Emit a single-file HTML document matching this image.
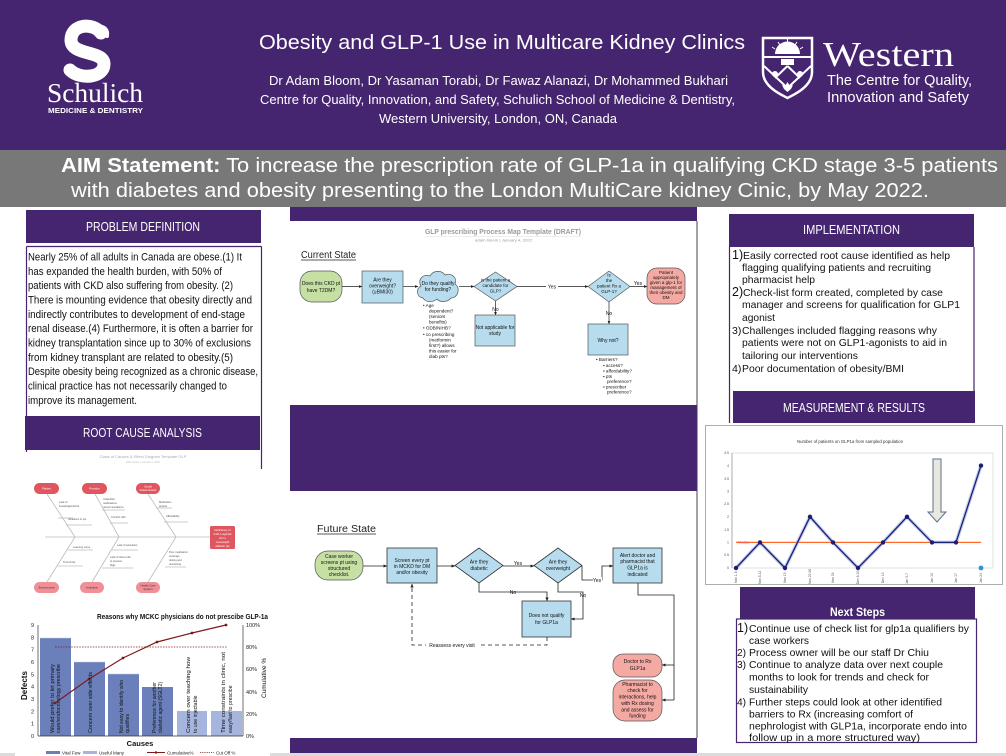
<!DOCTYPE html>
<html><head><meta charset="utf-8"><style>
html,body{margin:0;padding:0;background:#fff;}
svg{display:block;}
text{font-family:"Liberation Sans",Arial,sans-serif;}
.serif{font-family:"Liberation Serif","Times New Roman",serif;}
</style></head><body>
<svg width="1006" height="756" viewBox="0 0 1006 756" xmlns="http://www.w3.org/2000/svg">
<defs>
<marker id="ah" viewBox="0 0 10 10" refX="9" refY="5" markerWidth="5" markerHeight="5" orient="auto"><path d="M0,1 L10,5 L0,9 z" fill="#222"/></marker>
</defs>
<rect x="0" y="0" width="1006" height="756" fill="#fff"/>
<!-- HEADER -->
<rect x="0" y="0" width="1006" height="150" fill="#45256f"/>
<!-- Schulich logo -->
<path d="M101,33 C93,22 71,24 71,40 C71,56 104,50 104,64 C104,78 80,80 70,70" fill="none" stroke="#fff" stroke-width="13" stroke-linecap="round"/>
<path d="M99,27 C104,26 108,30 107,36" fill="none" stroke="#fff" stroke-width="4" stroke-linecap="round"/>
<text class="serif" x="47" y="102" font-size="27" fill="#fff" textLength="96" lengthAdjust="spacingAndGlyphs">Schulich</text>
<text x="48" y="113" font-size="7" font-weight="bold" fill="#fff" textLength="95" lengthAdjust="spacingAndGlyphs">MEDICINE &amp; DENTISTRY</text>
<!-- Title -->
<text x="259" y="49" font-size="20" fill="#fff" textLength="486" lengthAdjust="spacingAndGlyphs">Obesity and GLP-1 Use in Multicare Kidney Clinics</text>
<text x="269" y="85" font-size="13" fill="#fff" textLength="459" lengthAdjust="spacingAndGlyphs">Dr Adam Bloom, Dr Yasaman Torabi, Dr Fawaz Alanazi, Dr Mohammed Bukhari</text>
<text x="260" y="104" font-size="13" fill="#fff" textLength="475" lengthAdjust="spacingAndGlyphs">Centre for Quality, Innovation, and Safety, Schulich School of Medicine &amp; Dentistry,</text>
<text x="379" y="123" font-size="13" fill="#fff" textLength="238" lengthAdjust="spacingAndGlyphs">Western University, London, ON, Canada</text>
<!-- Western logo -->
<path d="M763,38 L812,38 L812,72 C812,87 793,95 787.5,98 C782,95 763,87 763,72 Z" fill="#45256f" stroke="#fff" stroke-width="2.5"/>
<path d="M775,54 A12.5,12.5 0 0 1 800,54 Z" fill="#fff"/>
<g stroke="#fff" stroke-width="1">
<line x1="787.5" y1="39" x2="787.5" y2="43"/><line x1="778" y1="42" x2="780" y2="45"/><line x1="797" y1="42" x2="795" y2="45"/><line x1="772" y1="47" x2="775" y2="49"/><line x1="803" y1="47" x2="800" y2="49"/>
</g>
<line x1="764" y1="57" x2="811" y2="57" stroke="#fff" stroke-width="2"/>
<rect x="781" y="59" width="13" height="6" fill="#fff"/>
<path d="M764,66 L787.5,88 L811,66 M787.5,66 L775,78 M787.5,66 L800,78" fill="none" stroke="#fff" stroke-width="2"/>
<circle cx="775" cy="74" r="3" fill="#fff"/><circle cx="800" cy="74" r="3" fill="#fff"/>
<path d="M787.5,82 L790,86 L793,85 L791,89 L787.5,92 L784,89 L782,85 L785,86 Z" fill="#fff"/>
<text class="serif" x="823" y="66" font-size="35" fill="#fff" textLength="131" lengthAdjust="spacingAndGlyphs">Western</text>
<text x="827" y="85" font-size="15" fill="#fff" textLength="145" lengthAdjust="spacingAndGlyphs">The Centre for Quality,</text>
<text x="827" y="102" font-size="15" fill="#fff" textLength="142" lengthAdjust="spacingAndGlyphs">Innovation and Safety</text>
<!-- AIM -->
<rect x="0" y="150" width="1006" height="57" fill="#787878"/>
<text x="61" y="172" font-size="20" fill="#fff" textLength="937" lengthAdjust="spacingAndGlyphs"><tspan font-weight="bold">AIM Statement:</tspan> To increase the prescription rate of GLP-1a in qualifying CKD stage 3-5 patients</text>
<text x="71" y="197" font-size="20" fill="#fff" textLength="858" lengthAdjust="spacingAndGlyphs">with diabetes and obesity presenting to the London MultiCare kidney Cinic, by May 2022.</text>

<!-- LEFT COLUMN -->
<line x1="26.5" y1="246.5" x2="26.5" y2="452" stroke="#45256f" stroke-width="1.2"/>
<line x1="261.5" y1="246.5" x2="261.5" y2="469" stroke="#45256f" stroke-width="1.2"/>
<line x1="26.5" y1="246.5" x2="261.5" y2="246.5" stroke="#45256f" stroke-width="1.2"/>
<rect x="26" y="210" width="235" height="33" fill="#45256f"/>
<text x="86" y="231" font-size="12.5" fill="#fff" textLength="114" lengthAdjust="spacingAndGlyphs">PROBLEM DEFINITION</text>
<g font-size="11" fill="#111">
<text x="28" y="260.5" textLength="214" lengthAdjust="spacingAndGlyphs">Nearly 25% of all adults in Canada are obese.(1) It</text>
<text x="28" y="274.8" textLength="194" lengthAdjust="spacingAndGlyphs">has expanded the health burden, with 50% of</text>
<text x="28" y="289.2" textLength="205" lengthAdjust="spacingAndGlyphs">patients with CKD also suffering from obesity. (2)</text>
<text x="28" y="303.5" textLength="224" lengthAdjust="spacingAndGlyphs">There is mounting evidence that obesity directly and</text>
<text x="28" y="317.8" textLength="217" lengthAdjust="spacingAndGlyphs">indirectly contributes to development of end-stage</text>
<text x="28" y="332.2" textLength="225" lengthAdjust="spacingAndGlyphs">renal disease.(4) Furthermore, it is often a barrier for</text>
<text x="28" y="346.5" textLength="223" lengthAdjust="spacingAndGlyphs">kidney transplantation since up to 30% of exclusions</text>
<text x="28" y="360.8" textLength="205" lengthAdjust="spacingAndGlyphs">from kidney transplant are related to obesity.(5)</text>
<text x="28" y="375.2" textLength="230" lengthAdjust="spacingAndGlyphs">Despite obesity being recognized as a chronic disease,</text>
<text x="28" y="389.5" textLength="199" lengthAdjust="spacingAndGlyphs">clinical practice has not necessarily changed to</text>
<text x="28" y="403.8" textLength="109" lengthAdjust="spacingAndGlyphs">improve its management.</text>
</g>
<rect x="25" y="416" width="235" height="34" fill="#45256f"/>
<text x="83" y="437" font-size="12.5" fill="#fff" textLength="119" lengthAdjust="spacingAndGlyphs">ROOT CAUSE ANALYSIS</text>

<!-- Fishbone -->
<text x="143" y="458" font-size="4" fill="#aaa" text-anchor="middle">Class of Causes &amp; Effect Diagram Template GLP</text>
<text x="143" y="463" font-size="2.5" fill="#bbb" text-anchor="middle">adam bloom | January 4, 2022</text>
<g stroke="#bbb" stroke-width="0.8" fill="none">
<line x1="45" y1="537" x2="210" y2="537"/>
<line x1="47" y1="494" x2="75" y2="537"/><line x1="95" y1="494" x2="119" y2="537"/><line x1="148" y1="494" x2="176" y2="537"/>
<line x1="75" y1="537" x2="47" y2="582"/><line x1="119" y1="537" x2="92" y2="582"/><line x1="176" y1="537" x2="148" y2="582"/>
<line x1="58" y1="518" x2="73" y2="518"/><line x1="66" y1="525" x2="92" y2="525"/>
<line x1="102" y1="510" x2="125" y2="510"/><line x1="110" y1="523" x2="128" y2="523"/>
<line x1="156" y1="508" x2="172" y2="508"/><line x1="164" y1="522" x2="188" y2="522"/>
<line x1="68" y1="550" x2="93" y2="550"/><line x1="58" y1="566" x2="83" y2="566"/>
<line x1="112" y1="550" x2="138" y2="550"/><line x1="102" y1="568" x2="133" y2="568"/>
<line x1="165" y1="567" x2="186" y2="567"/>
</g>
<g font-size="2.6" fill="#555">
<text x="59" y="503">Lack of</text><text x="59" y="507">knowledge/inertia</text>
<text x="68" y="520">Variations in pts</text>
<text x="103" y="500">Unfamiliar</text><text x="103" y="504">medications</text><text x="103" y="508">recommendations</text>
<text x="111" y="518">Comfort with</text>
<text x="159" y="503">Medication</text><text x="159" y="507">access</text>
<text x="166" y="517">Affordability</text>
<text x="73" y="548">Learning curve</text><text x="63" y="563">Time limits</text>
<text x="117" y="546">Lack of education</text><text x="110" y="558">Lack of clear refer</text><text x="110" y="562">to process</text><text x="110" y="566">flags</text>
<text x="169" y="553">Poor medication</text><text x="169" y="557">coverage</text><text x="169" y="561">dosing and</text><text x="169" y="565">monitoring</text>
</g>
<g fill="#e05660">
<rect x="34" y="483" width="25" height="11" rx="5.5"/><rect x="82" y="483" width="25" height="11" rx="5.5"/><rect x="136" y="483" width="24" height="11" rx="5.5"/>
<rect x="210" y="526" width="25" height="23" rx="1.5"/>
</g>
<g fill="#f18f96">
<rect x="34" y="582" width="25" height="11" rx="5.5"/><rect x="80" y="582" width="24" height="11" rx="5.5"/><rect x="136" y="582" width="24" height="11" rx="5.5"/>
</g>
<g font-size="2.8" fill="#fff" text-anchor="middle">
<text x="46.5" y="489.5">Patient</text><text x="94.5" y="489.5">Provider</text><text x="148" y="487.5">Social</text><text x="148" y="491">Determinants</text>
<text x="222.5" y="531">Deficiency of</text><text x="222.5" y="535">GLP-1 agonist</text><text x="222.5" y="539">Rx in</text><text x="222.5" y="543">overweight</text><text x="222.5" y="547">diabetic pts</text>
</g>
<g font-size="2.8" fill="#333" text-anchor="middle">
<text x="46.5" y="588.5">Environment</text><text x="92" y="588.5">Institution</text><text x="148" y="586.5">Health Care</text><text x="148" y="590">System</text>
</g>

<!-- Pareto -->
<text x="97" y="619" font-size="7.5" font-weight="bold" fill="#111" textLength="171" lengthAdjust="spacingAndGlyphs">Reasons why MCKC physicians do not prescibe GLP-1a</text>
<g fill="#6b80ba"><rect x="40" y="638" width="31" height="98"/><rect x="74" y="662" width="31" height="74"/><rect x="108" y="674" width="31" height="62"/><rect x="142" y="687" width="31" height="49"/></g>
<g fill="#a5b5dd"><rect x="177" y="711" width="30" height="25"/><rect x="211" y="711" width="31" height="25"/></g>
<g stroke="#ccd" stroke-width="0.6"><line x1="40" y1="638" x2="71" y2="638"/><line x1="74" y1="662" x2="105" y2="662"/><line x1="108" y1="674" x2="139" y2="674"/></g>
<g stroke="#333" stroke-width="0.7"><line x1="38" y1="625" x2="38" y2="736"/><line x1="38" y1="736" x2="243" y2="736"/><line x1="243" y1="625" x2="243" y2="736"/></g>
<g font-size="5.5" fill="#222" text-anchor="end">
<text x="34" y="738">0</text><text x="34" y="725.7">1</text><text x="34" y="713.3">2</text><text x="34" y="701">3</text><text x="34" y="688.7">4</text><text x="34" y="676.3">5</text><text x="34" y="664">6</text><text x="34" y="651.7">7</text><text x="34" y="639.3">8</text><text x="34" y="627">9</text>
</g>
<g font-size="5.5" fill="#222">
<text x="246" y="738">0%</text><text x="246" y="716">20%</text><text x="246" y="694">40%</text><text x="246" y="671">60%</text><text x="246" y="649">80%</text><text x="246" y="627">100%</text>
</g>
<text transform="translate(27,700) rotate(-90)" font-size="8" font-weight="bold" fill="#111">Defects</text>
<text transform="translate(266,698) rotate(-90)" font-size="6.5" fill="#111">Cumulative %</text>
<text x="140" y="746" font-size="7.5" font-weight="bold" fill="#111" text-anchor="middle">Causes</text>
<line x1="55" y1="647" x2="227" y2="647" stroke="#8b1a1a" stroke-width="0.8" stroke-dasharray="1.5,1.2"/>
<polyline points="55,703 89,679 123,658 157,642 192,633 226,625" fill="none" stroke="#7b1c1c" stroke-width="1.2"/>
<g fill="#7b1c1c"><circle cx="55" cy="703" r="1.4"/><circle cx="89" cy="679" r="1.4"/><circle cx="123" cy="658" r="1.4"/><circle cx="157" cy="642" r="1.4"/><circle cx="192" cy="633" r="1.4"/><circle cx="226" cy="625" r="1.4"/></g>
<g font-size="5.2" fill="#111">
<text transform="translate(54,733) rotate(-90)" textLength="69" lengthAdjust="spacingAndGlyphs">Would prefer to let primary</text>
<text transform="translate(60,733) rotate(-90)" textLength="69" lengthAdjust="spacingAndGlyphs">care/endocrinology prescribe</text>
<text transform="translate(92,733) rotate(-90)" textLength="61" lengthAdjust="spacingAndGlyphs">Concern over side effects</text>
<text transform="translate(123,733) rotate(-90)" textLength="53" lengthAdjust="spacingAndGlyphs">Not easy to identify who</text>
<text transform="translate(129,733) rotate(-90)">qualifies</text>
<text transform="translate(156,733) rotate(-90)" textLength="51" lengthAdjust="spacingAndGlyphs">Preference for another</text>
<text transform="translate(162,733) rotate(-90)" textLength="51" lengthAdjust="spacingAndGlyphs">diabetic agent (SGLT2)</text>
<text transform="translate(190,733) rotate(-90)" textLength="76" lengthAdjust="spacingAndGlyphs">Concern over teaching how</text>
<text transform="translate(197,733) rotate(-90)">to use injectable</text>
<text transform="translate(225,733) rotate(-90)" textLength="81" lengthAdjust="spacingAndGlyphs">Time constraints in clinic, not</text>
<text transform="translate(232,733) rotate(-90)">easy/fast to prescibe</text>
</g>

<!-- CENTER COLUMN -->
<rect x="290" y="207" width="407" height="14" fill="#45256f"/>
<line x1="697" y1="221" x2="697" y2="738" stroke="#444" stroke-width="1"/>
<text x="425" y="234" font-size="7.5" font-weight="bold" fill="#9a9a9a" textLength="156" lengthAdjust="spacingAndGlyphs">GLP prescribing Process Map Template (DRAFT)</text>
<line x1="425" y1="236.5" x2="581" y2="236.5" stroke="#ddd" stroke-width="0.6"/>
<text x="475" y="241.5" font-size="4" fill="#999" textLength="57" lengthAdjust="spacingAndGlyphs">adam bloom  |  January 4, 2022</text>
<text x="301" y="258" font-size="10" fill="#222" textLength="55" lengthAdjust="spacingAndGlyphs">Current State</text>
<line x1="301" y1="260" x2="356" y2="260" stroke="#222" stroke-width="0.7"/>
<g stroke="#222" stroke-width="0.7" fill="none">
<line x1="342" y1="286.5" x2="362" y2="286.5" marker-end="url(#ah)"/>
<line x1="403" y1="286.5" x2="418" y2="286.5" marker-end="url(#ah)"/>
<line x1="459" y1="286.5" x2="474" y2="286.5" marker-end="url(#ah)"/>
<line x1="517" y1="286.5" x2="588" y2="286.5" marker-end="url(#ah)"/>
<line x1="630" y1="286.5" x2="647" y2="286.5" marker-end="url(#ah)"/>
<line x1="495.5" y1="301" x2="495.5" y2="315" marker-end="url(#ah)"/>
<line x1="609" y1="301" x2="609" y2="324" marker-end="url(#ah)"/>
</g>
<rect x="300" y="271" width="42" height="31" rx="12" fill="#c6e0a4" stroke="#555" stroke-width="0.7"/>
<rect x="362" y="271" width="41" height="32" fill="#b7dcee" stroke="#555" stroke-width="0.7"/>
<path d="M423,298 C416,297 416,288 421,286 C417,280 423,273 430,276 C433,270 442,270 445,275 C451,272 458,278 455,284 C461,288 458,298 451,298 C447,303 439,302 437,299 C432,303 425,302 423,298 Z" fill="#b7dcee" stroke="#555" stroke-width="0.7"/>
<polygon points="474,286.5 495.5,272 517,286.5 495.5,301" fill="#b7dcee" stroke="#555" stroke-width="0.7"/>
<rect x="475" y="315" width="40" height="31" fill="#b7dcee" stroke="#555" stroke-width="0.7"/>
<polygon points="588,286.5 609,271 630,286.5 609,302" fill="#b7dcee" stroke="#555" stroke-width="0.7"/>
<rect x="647" y="268" width="38" height="36" rx="10" fill="#f5a9a3" stroke="#555" stroke-width="0.7"/>
<rect x="588" y="324" width="40" height="31" fill="#b7dcee" stroke="#555" stroke-width="0.7"/>
<rect x="546" y="283" width="12" height="7" fill="#fff"/>
<g font-size="5" fill="#111" text-anchor="middle">
<text x="321" y="285">Does this CKD pt</text><text x="321" y="292">have T2DM?</text>
<text x="382.5" y="281.5">Are they</text><text x="382.5" y="287.5">overweight?</text><text x="382.5" y="293.5">(≥BMI30)</text>
<text x="438" y="285">Do they qualify</text><text x="438" y="291">for funding?</text>
<text x="495.5" y="281.5" font-size="4.5">Is the patient a</text><text x="495.5" y="287" font-size="4.5">candidate for</text><text x="495.5" y="292.5" font-size="4.5">GLP?</text>
<text x="495.5" y="311">No</text>
<text x="495" y="329">Not applicable for</text><text x="495" y="335">study</text>
<text x="552" y="288.5">Yes</text>
<text x="609" y="276.5" font-size="4.5">Is</text><text x="609" y="282" font-size="4.5">the</text><text x="609" y="287.5" font-size="4.5">patient Rx a</text><text x="609" y="293" font-size="4.5">GLP-1?</text>
<text x="638" y="285">Yes</text>
<text x="609" y="315">No</text>
<text x="666" y="274" font-size="4.5">Patient</text><text x="666" y="279" font-size="4.5">appropriately</text><text x="666" y="284" font-size="4.5">given a glp-1 for</text><text x="666" y="289" font-size="4.5">management of</text><text x="666" y="294" font-size="4.5">their obesity and</text><text x="666" y="299" font-size="4.5">DM</text>
<text x="608" y="342">Why not?</text>
</g>
<g font-size="4.6" fill="#111">
<text x="423" y="307">•  Age</text><text x="429" y="312.5">dependent?</text><text x="429" y="318">(seniors</text><text x="429" y="323.5">benefits)</text>
<text x="423" y="329.5">•  ODB/NIHB?</text>
<text x="423" y="336">•  co prescribing</text><text x="429" y="341.5">(metformin</text><text x="429" y="347">first?) allows</text><text x="429" y="352.5">this easier for</text><text x="429" y="358">diab pts?</text>
<text x="596" y="361">•  Barriers?</text>
<text x="603" y="367">▪ access?</text><text x="603" y="372.5">▪ affordability?</text><text x="603" y="378">▪ pts</text><text x="607" y="383">preference?</text><text x="603" y="388.5">▪ prescriber</text><text x="607" y="393.5">preference?</text>
</g>
<rect x="290" y="405" width="407" height="86" fill="#45256f"/>
<!-- Future state -->
<text x="317" y="532" font-size="10" fill="#222" textLength="59" lengthAdjust="spacingAndGlyphs">Future State</text>
<line x1="317" y1="534" x2="376" y2="534" stroke="#222" stroke-width="0.7"/>
<g stroke="#222" stroke-width="0.8" fill="none">
<line x1="363" y1="566" x2="387" y2="566" marker-end="url(#ah)"/>
<line x1="437" y1="566" x2="455" y2="566" marker-end="url(#ah)"/>
<line x1="503" y1="566" x2="534" y2="566" marker-end="url(#ah)"/>
<polyline points="582,566 582,580 602,580 602,566 613,566" marker-end="url(#ah)"/>
<polyline points="479,583 479,592 547,592 547,601" marker-end="url(#ah)"/>
<polyline points="558,583 558,592 583,592 583,619 571,619" marker-end="url(#ah)"/>
<polyline points="547,637 547,645 412,645 412,584" stroke-dasharray="4,3" marker-end="url(#ah)"/>
<polyline points="638,583 638,595 674,595 674,700"/>
<line x1="674" y1="665" x2="662" y2="665" marker-end="url(#ah)"/>
<line x1="674" y1="700" x2="662" y2="700" marker-end="url(#ah)"/>
</g>
<rect x="315" y="551" width="48" height="29" rx="13" fill="#c6e0a4" stroke="#555" stroke-width="0.7"/>
<rect x="387" y="548" width="50" height="35" fill="#b7dcee" stroke="#333" stroke-width="0.8"/>
<polygon points="455,565.5 479,548 503,565.5 479,583" fill="#b7dcee" stroke="#333" stroke-width="0.8"/>
<polygon points="534,565.5 558,548 582,565.5 558,583" fill="#b7dcee" stroke="#333" stroke-width="0.8"/>
<rect x="613" y="548" width="49" height="35" fill="#b7dcee" stroke="#333" stroke-width="0.8"/>
<rect x="522" y="601" width="49" height="36" fill="#b7dcee" stroke="#333" stroke-width="0.8"/>
<rect x="613" y="654" width="49" height="23" rx="10" fill="#f5a9a3" stroke="#555" stroke-width="0.7"/>
<rect x="613" y="680" width="49" height="41" rx="12" fill="#f5a9a3" stroke="#555" stroke-width="0.7"/>
<rect x="426" y="642" width="52" height="6" fill="#fff"/>
<rect x="593" y="577" width="9" height="6" fill="#fff"/>
<g font-size="5" fill="#111" text-anchor="middle">
<text x="339" y="558">Case worker</text><text x="339" y="564">screens pt using</text><text x="339" y="570">structured</text><text x="339" y="576">checklist.</text>
<text x="412" y="562">Screen every pt</text><text x="412" y="568">in MCKD for DM</text><text x="412" y="574">and/or obesity</text>
<text x="479" y="563.5">Are they</text><text x="479" y="570">diabetic</text>
<text x="518" y="565">Yes</text>
<text x="558" y="563.5">Are they</text><text x="558" y="570">overweight</text>
<text x="597" y="582">Yes</text>
<text x="637.5" y="557">Alert doctor and</text><text x="637.5" y="563">pharmacist that</text><text x="637.5" y="569.5">GLP1a is</text><text x="637.5" y="576">indicated</text>
<text x="513" y="594">No</text><text x="583" y="597">No</text>
<text x="546.5" y="617">Does not qualify</text><text x="546.5" y="624">for GLP1a</text>
<text x="452" y="647">Reassess every visit</text>
<text x="637.5" y="663">Doctor to Rx</text><text x="637.5" y="670">GLP1a</text>
<text x="637.5" y="686">Pharmacist to</text><text x="637.5" y="692">check for</text><text x="637.5" y="698.5">interactions, help</text><text x="637.5" y="705">with Rx dosing</text><text x="637.5" y="711.5">and assess for</text><text x="637.5" y="717.5">funding</text>
</g>
<rect x="290" y="738" width="407" height="15" fill="#45256f"/>

<!-- RIGHT COLUMN -->
<line x1="729.5" y1="247" x2="729.5" y2="423" stroke="#45256f" stroke-width="1.2"/>
<line x1="974" y1="247" x2="974" y2="392" stroke="#45256f" stroke-width="1.2"/>
<rect x="729" y="214" width="245" height="33" fill="#45256f"/>
<text x="803" y="234" font-size="12.5" fill="#fff" textLength="97" lengthAdjust="spacingAndGlyphs">IMPLEMENTATION</text>
<g font-size="10.5" fill="#111">
<text x="732" y="259" font-size="12.5">1)</text><text x="743" y="259" textLength="207" lengthAdjust="spacingAndGlyphs">Easily corrected root cause identified as help</text>
<text x="742" y="271" textLength="189" lengthAdjust="spacingAndGlyphs">flagging qualifying patients and recruiting</text>
<text x="742" y="283" textLength="73" lengthAdjust="spacingAndGlyphs">pharmacist help</text>
<text x="732" y="296" font-size="12.5">2)</text><text x="743" y="296" textLength="200" lengthAdjust="spacingAndGlyphs">Check-list form created, completed by case</text>
<text x="742" y="308" textLength="218" lengthAdjust="spacingAndGlyphs">manager and screens for qualification for GLP1</text>
<text x="742" y="321" textLength="33" lengthAdjust="spacingAndGlyphs">agonist</text>
<text x="732" y="334">3)</text><text x="742" y="334" textLength="195" lengthAdjust="spacingAndGlyphs">Challenges included flagging reasons why</text>
<text x="742" y="346" textLength="205" lengthAdjust="spacingAndGlyphs">patients were not on GLP1-agonists to aid in</text>
<text x="742" y="359" textLength="116" lengthAdjust="spacingAndGlyphs">tailoring our interventions</text>
<text x="732" y="372">4)</text><text x="742" y="372" textLength="162" lengthAdjust="spacingAndGlyphs">Poor documentation of obesity/BMI</text>
</g>
<rect x="733" y="391" width="242" height="32" fill="#45256f"/>
<text x="783" y="412" font-size="12.5" fill="#fff" textLength="142" lengthAdjust="spacingAndGlyphs">MEASUREMENT &amp; RESULTS</text>
<!-- Run chart -->
<rect x="705.5" y="425.5" width="297" height="159" fill="#fff" stroke="#999" stroke-width="0.8"/>
<text x="850" y="443" font-size="4.5" fill="#333" text-anchor="middle" textLength="106" lengthAdjust="spacingAndGlyphs">Number of patients on GLP1a from sampled population</text>
<rect x="732" y="453" width="261" height="115" fill="none" stroke="#ccc" stroke-width="0.6"/>
<line x1="732" y1="453" x2="732" y2="568" stroke="#888" stroke-width="0.6"/>
<g font-size="3.5" fill="#555" text-anchor="end">
<text x="729" y="569">0</text><text x="729" y="556">0.5</text><text x="729" y="543.5">1</text><text x="729" y="531">1.5</text><text x="729" y="518">2</text><text x="729" y="505">2.5</text><text x="729" y="492.5">3</text><text x="729" y="480">3.5</text><text x="729" y="467">4</text><text x="729" y="454">4.5</text>
</g>
<line x1="736" y1="542.4" x2="981" y2="542.4" stroke="#ff6a2a" stroke-width="1.2"/>
<text x="738" y="543.5" font-size="3.5" fill="#f48">Median</text>
<polyline points="736,568 760,542.4 785,568 810,516.8 833,542.4 858,568 883,542.4 907,516.8 932,542.4 956,542.4 981,465.6" fill="none" stroke="#9aa6e0" stroke-width="3.5" stroke-opacity="0.6"/>
<polyline points="736,568 760,542.4 785,568 810,516.8 833,542.4 858,568 883,542.4 907,516.8 932,542.4 956,542.4 981,465.6" fill="none" stroke="#1b1f73" stroke-width="1.3"/>
<g fill="#1b1f73"><circle cx="736" cy="568" r="2.2"/><circle cx="760" cy="542.4" r="2.2"/><circle cx="785" cy="568" r="2.2"/><circle cx="810" cy="516.8" r="2.2"/><circle cx="833" cy="542.4" r="2.2"/><circle cx="858" cy="568" r="2.2"/><circle cx="883" cy="542.4" r="2.2"/><circle cx="907" cy="516.8" r="2.2"/><circle cx="932" cy="542.4" r="2.2"/><circle cx="956" cy="542.4" r="2.2"/><circle cx="981" cy="465.6" r="2.2"/></g>
<circle cx="981" cy="568" r="2.4" fill="#2a95d6"/>
<path d="M933,459 L941,459 L941,512 L946,512 L937,522 L928,512 L933,512 Z" fill="#e8e8de" stroke="#5a7090" stroke-width="1"/>
<g font-size="3.3" fill="#555">
<text transform="translate(737,583) rotate(-90)">Nov 1-5</text><text transform="translate(761,584) rotate(-90)">Nov 8-12</text><text transform="translate(786,583) rotate(-90)">Nov 15</text><text transform="translate(811,584) rotate(-90)">Nov 22-26</text><text transform="translate(834,583) rotate(-90)">Nov 29</text><text transform="translate(859,584) rotate(-90)">Dec 6-10</text><text transform="translate(884,583) rotate(-90)">Dec 13</text><text transform="translate(908,584) rotate(-90)">Jan 3-7</text><text transform="translate(933,583) rotate(-90)">Jan 10</text><text transform="translate(957,583) rotate(-90)">Jan 17</text><text transform="translate(982,583) rotate(-90)">Jan 24</text>
</g>
<!-- Next steps -->
<rect x="736.5" y="619" width="240" height="123.5" fill="#fff" stroke="#45256f" stroke-width="1.2"/>
<rect x="740" y="587" width="235" height="32" fill="#45256f"/>
<text x="830" y="616" font-size="12" font-weight="bold" fill="#fff" textLength="55" lengthAdjust="spacingAndGlyphs">Next Steps</text>
<g font-size="10.2" fill="#111">
<text x="737" y="632" font-size="12.5">1)</text><text x="749" y="632" textLength="220" lengthAdjust="spacingAndGlyphs">Continue use of check list for glp1a qualifiers by</text>
<text x="749" y="644" textLength="60" lengthAdjust="spacingAndGlyphs">case workers</text>
<text x="737" y="656">2)</text><text x="749" y="656" textLength="180" lengthAdjust="spacingAndGlyphs">Process owner will be our staff Dr Chiu</text>
<text x="737" y="668">3)</text><text x="749" y="668" textLength="194" lengthAdjust="spacingAndGlyphs">Continue to analyze data over next couple</text>
<text x="749" y="680.5" textLength="180" lengthAdjust="spacingAndGlyphs">months to look for trends and check for</text>
<text x="749" y="693" textLength="59" lengthAdjust="spacingAndGlyphs">sustainability</text>
<text x="737" y="705.5">4)</text><text x="749" y="705.5" textLength="193" lengthAdjust="spacingAndGlyphs">Further steps could look at other identified</text>
<text x="749" y="717.5" textLength="164" lengthAdjust="spacingAndGlyphs">barriers to Rx (increasing comfort of</text>
<text x="749" y="729.5" textLength="218" lengthAdjust="spacingAndGlyphs">nephrologist with GLP1a, incorporate endo into</text>
<text x="749" y="741" textLength="171" lengthAdjust="spacingAndGlyphs">follow up in a more structured way)</text>
</g>

<!-- bottom strip -->
<rect x="0" y="753" width="1006" height="3" fill="#dcdcdc"/>
<rect x="15" y="748" width="255" height="8" fill="#fff"/>
<rect x="46" y="751" width="14" height="3" fill="#6b80ba"/>
<rect x="83" y="751" width="14" height="3" fill="#a5b5dd"/>
<line x1="147" y1="752.5" x2="165" y2="752.5" stroke="#7b1c1c" stroke-width="1"/>
<circle cx="156" cy="752.5" r="1.2" fill="#7b1c1c"/>
<line x1="200" y1="752.5" x2="214" y2="752.5" stroke="#8b1a1a" stroke-width="0.8" stroke-dasharray="1.2,1"/>
<g font-size="4.5" fill="#222">
<text x="62" y="754.5">Vital Few</text><text x="99" y="754.5">Useful Many</text><text x="167" y="754.5">Cumulative%</text><text x="216" y="754.5">Cut Off %</text>
</g>
</svg>
</body></html>
